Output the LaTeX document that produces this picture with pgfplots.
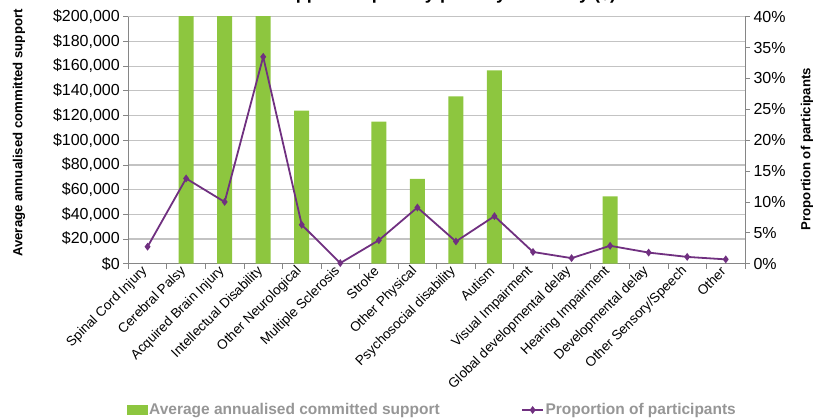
\documentclass[border=0pt]{standalone}
\usepackage{pgfplots}
\usepackage{pgfplotstable}
\pgfplotsset{compat=1.18}
\usepackage{fontspec}
\setmainfont{Liberation Sans}
\definecolor{barg}{RGB}{141,198,63}
\definecolor{lpur}{RGB}{112,48,128}
\definecolor{gridc}{RGB}{195,195,195}
\definecolor{axc}{RGB}{134,134,134}
\definecolor{legc}{RGB}{150,150,150}

\pgfplotsset{
  lineleg/.style={legend image code/.code={\draw[mark repeat=2,mark phase=2,##1] plot coordinates {(0pt,0pt) (10.5pt,0pt) (21pt,0pt)};}},
  barleg/.style={legend image code/.code={\fill[barg] (0pt,-5pt) rectangle (21pt,5pt);}},
}

% Average annualised committed support (bars above $200,000 are cut off in the original)
\pgfplotstableread{
x val
1 250000
2 250000
3 250000
4 124000
6 115000
7 68600
8 135500
9 156600
12 54600
}\bars

% Proportion of participants (%)
\pgfplotstableread{
x p
0 2.75
1 13.8
2 10.0
3 33.5
4 6.3
5 0.1
6 3.8
7 9.1
8 3.6
9 7.7
10 1.9
11 0.9
12 2.9
13 1.8
14 1.1
15 0.7
}\prop

\begin{document}
\begin{tikzpicture}
\pgfplotsset{base/.style={
  scale only axis, width=616.7pt, height=247pt,
  at={(0pt,0pt)}, anchor=south west,
  xmin=-0.5, xmax=15.5,
  scaled y ticks=false,
  /pgf/number format/assume math mode=true,
  tick label style={font=\fontsize{16}{19}\selectfont},
  major tick length=5pt, tick align=outside,
  every tick/.style={axc, line width=0.8pt},
  axis line style={axc, line width=1pt},
}}

\begin{axis}[base,
  ymin=0, ymax=200000,
  axis x line*=bottom, axis y line*=left,
  ytick={0,20000,...,200000},
  yticklabels={\$0,\$20{,}000,\$40{,}000,\$60{,}000,\$80{,}000,\$100{,}000,\$120{,}000,\$140{,}000,\$160{,}000,\$180{,}000,\$200{,}000},
  ymajorgrids, grid style={gridc, line width=1.2pt},
  xtick={-0.5,0.5,...,15.5},
  x tick label as interval,
  xticklabels={Spinal Cord Injury,Cerebral Palsy,Acquired Brain Injury,Intellectual Disability,Other Neurological,Multiple Sclerosis,Stroke,Other Physical,Psychosocial disability,Autism,Visual Impairment,Global developmental delay,Hearing Impairment,Developmental delay,Other Sensory/Speech,Other},
  xticklabel style={font=\fontsize{13.5}{16}\selectfont, yshift=2pt, rotate=45, anchor=east},
  ylabel={Average annualised committed support},
  every axis y label/.style={at={(axis description cs:-0.1772,0.529)}, rotate=90, anchor=center, font=\bfseries\fontsize{13.2}{16}\selectfont},
  title={approved plan by primary disability (\$)},
  title style={at={(axis description cs:0.5233,1)}, anchor=base, yshift=11.5pt, font=\bfseries\fontsize{18}{21}\selectfont},
  legend columns=2,
  legend style={at={(axis description cs:0.4925,-0.5923)}, anchor=center, draw=none, fill=none,
    font=\bfseries\fontsize{15.5}{18}\selectfont, text=legc,
    /tikz/every even column/.append style={column sep=80pt},
    nodes={inner sep=1.5pt}},
]
\addplot[ybar, bar width=15pt, fill=barg, draw=none, barleg]
  table[x=x, y=val] {\bars};
\addlegendentry{Average annualised committed support}
\addlegendimage{lpur, line width=1.8pt, mark=diamond*, mark size=2.5pt, lineleg}
\addlegendentry{Proportion of participants}
\end{axis}

\begin{axis}[base,
  ymin=0, ymax=40,
  axis y line*=right, axis x line=none,
  ytick={0,5,...,40},
  yticklabels={0\%,5\%,10\%,15\%,20\%,25\%,30\%,35\%,40\%},
  ylabel={Proportion of participants},
  every axis y label/.style={at={(axis description cs:1.1005,0.464)}, rotate=90, anchor=center, font=\bfseries\fontsize{13.2}{16}\selectfont},
]
\addplot[lpur, line width=1.8pt, mark=diamond*, mark size=2.5pt] table[x=x, y=p] {\prop};
\end{axis}

\pgfresetboundingbox
\useasboundingbox (-128.3pt,-156.3pt) rectangle (691.7pt,263.7pt);
\end{tikzpicture}
\end{document}
